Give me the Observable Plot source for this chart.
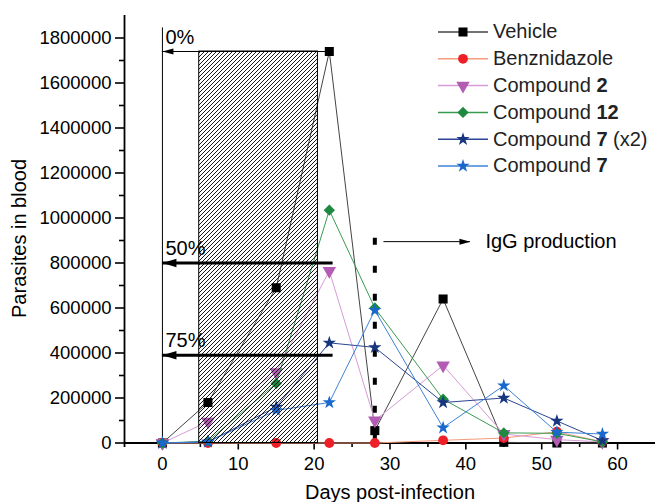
<!DOCTYPE html>
<html><head><meta charset="utf-8">
<script src="https://cdn.jsdelivr.net/npm/d3@7"></script>
<script src="https://cdn.jsdelivr.net/npm/@observablehq/plot@0.6"></script>
<style>
body{margin:0;background:#fff;font-family:"Liberation Sans",Arial,sans-serif;}
#wrap{position:relative;width:655px;height:502px;}
#legend{position:absolute;left:0;top:0;pointer-events:none;}
</style></head><body><div id="wrap"></div>
<script>
// ---- data ----
const days = [0, 6, 15, 22, 28, 37, 45, 52, 58];
const vehicle      = [0, 180000, 690000, 1740000, 55000, 640000, 3000, 0, 0];
const benznidazole = [0, 0, 0, 0, 0, 12000, 22000, 50000, 5000];
const compound2    = [0, 95000, 315000, 765000, 100000, 345000, 40000, 15000, 5000];
const compound12   = [0, 8000, 265000, 1035000, 600000, 195000, 45000, 43000, 5000];
const compound7x2  = [0, 5000, 160000, 445000, 425000, 180000, 200000, 98000, 11000];
const compound7    = [0, 5000, 145000, 180000, 590000, 68000, 255000, 48000, 40000];

const seriesNames = ["Vehicle", "Benznidazole", "Compound 2", "Compound 12", "Compound 7 (x2)", "Compound 7"];
const seriesLabelParts = [["Vehicle", "", ""], ["Benznidazole", "", ""], ["Compound ", "2", ""], ["Compound ", "12", ""], ["Compound ", "7", " (x2)"], ["Compound ", "7", ""]];
const seriesValues = [vehicle, benznidazole, compound2, compound12, compound7x2, compound7];
const markerColors = ["#000000", "#ee1f26", "#b35cb3", "#1d8a3f", "#17367f", "#1a68cc"];
const lineColors   = ["#444444", "#f59a7c", "#d79bd6", "#3b9a52", "#2b4493", "#3e83d9"];

const xTicks = [0, 10, 20, 30, 40, 50, 60];
const xMinorTicks = [5, 15, 25, 35, 45, 55];
const yTicks = [0, 200000, 400000, 600000, 800000, 1000000, 1200000, 1400000, 1600000, 1800000];
const yMinorTicks = [100000, 300000, 500000, 700000, 900000, 1100000, 1300000, 1500000, 1700000];

// annotations
const treatmentWindow = [4.85, 20.5];
const treatmentTop = 1740000;
const reductionLabels = ["0%", "50%", "75%"];
const reductionLevels = [1740000, 800000, 390000];
const reductionStart = [22, 22.5, 22.5];
const infectionLineTop = 1845000;
const iggDay = 28;
const iggTop = 910000;
const iggArrow = [29.2, 40.6];
const iggLevel = 895000;
const iggLabel = "IgG production";

// ---- symbols ----
const symbols = [d3.symbolSquare, d3.symbolCircle, d3.symbolTriangle, d3.symbolDiamond2, d3.symbolStar, d3.symbolStar];
const radii = [5.1, 4.9, 5.0, 5.1, 4.2, 4.2];
const rotations = [0, 0, 180, 0, 0, 0];
const headLeft = (len, half) => ({draw(ctx){ctx.moveTo(0,0);ctx.lineTo(len,-half);ctx.lineTo(len,half);ctx.closePath();}});
const headRight = (len, half) => ({draw(ctx){ctx.moveTo(0,0);ctx.lineTo(-len,-half);ctx.lineTo(-len,half);ctx.closePath();}});

const rows = seriesNames.flatMap((s, i) => days.map((d, j) => ({series: s, day: d, value: seriesValues[i][j]})));

const seriesMarks = seriesNames.flatMap((s, i) => {
  const data = rows.filter(r => r.series === s);
  return [
    Plot.line(data, {x: "day", y: "value", stroke: lineColors[i], strokeWidth: 1}),
    Plot.dot(data, {x: "day", y: "value", symbol: symbols[i], r: radii[i], rotate: rotations[i], fill: markerColors[i], stroke: "none"})
  ];
});

const reductions = reductionLabels.map((l, i) => ({label: l, y: reductionLevels[i], x1: reductionStart[i]}));

const plot = Plot.plot({
  width: 655, height: 502,
  marginLeft: 124, marginRight: 0, marginTop: 15, marginBottom: 55,
  style: {fontFamily: '"Liberation Sans", Arial, sans-serif', fontSize: "18.5px", background: "white", color: "black"},
  x: {domain: [-5, 65], label: null},
  y: {domain: [-20000, 1900000], label: null},
  marks: [
    // axes
    Plot.ruleX([-5], {strokeWidth: 1.8}),
    Plot.ruleY([0], {strokeWidth: 1.8}),
    Plot.axisY({ticks: yTicks, tickSize: 9, tickPadding: 4, strokeWidth: 1.6, tickFormat: d3.format("d"), fontSize: 18.5}),
    Plot.axisY({ticks: yMinorTicks, tickSize: 5, strokeWidth: 1.6, tickFormat: () => ""}),
    Plot.axisX({ticks: xTicks, tickSize: 7, tickPadding: 7, dy: -4.5, strokeWidth: 1.6, tickFormat: d3.format("d"), fontSize: 18.5}),
    Plot.axisX({ticks: xMinorTicks, tickSize: 4.5, dy: -4.5, strokeWidth: 1.6, tickFormat: () => ""}),
    Plot.text(["Days post-infection"], {frameAnchor: "bottom", dy: 45, fontSize: 20, lineAnchor: "middle"}),
    Plot.text(["Parasites in blood"], {frameAnchor: "left", rotate: -90, dx: -105, dy: 7, fontSize: 20, lineAnchor: "middle", textAnchor: "middle"}),
    // infection day line
    Plot.ruleX([0], {y1: 0, y2: infectionLineTop, strokeWidth: 1}),
    // IgG dashed line
    Plot.ruleX([iggDay], {y1: iggTop, y2: 0, strokeWidth: 4, strokeDasharray: "7,21"}),
    // series
    ...seriesMarks,
    // reduction labels
    Plot.text(reductions, {x: 0, y: "y", text: "label", textAnchor: "start", lineAnchor: "bottom", dx: 3, dy: -8, fontSize: 20}),
    // treatment window (hatched)
    Plot.rect([treatmentWindow], {x1: d => d[0], x2: d => d[1], y1: 0, y2: treatmentTop, fill: "url(#hatch)", stroke: "black", strokeWidth: 1}),
    // reduction arrows
    Plot.ruleY(reductions.slice(0, 1), {y: "y", x1: "x1", x2: 0, strokeWidth: 1}),
    Plot.ruleY(reductions.slice(1), {y: "y", x1: "x1", x2: 0, strokeWidth: 3}),
    Plot.dot(reductions.slice(0, 1), {x: 0, y: "y", symbol: headLeft(11, 3), fill: "black", stroke: "none"}),
    Plot.dot(reductions.slice(1), {x: 0, y: "y", symbol: headLeft(14, 4.2), fill: "black", stroke: "none"}),
    // IgG arrow
    Plot.ruleY([iggLevel], {x1: iggArrow[0], x2: iggArrow[1], strokeWidth: 1}),
    Plot.dot([iggLevel], {x: iggArrow[1], y: d => d, symbol: headRight(11, 3), fill: "black", stroke: "none"}),
    Plot.text([iggLabel], {x: iggArrow[1], y: iggLevel, dx: 15, textAnchor: "start", lineAnchor: "middle", fontSize: 20})
  ]
});

// hatch pattern
const svgEl = plot.tagName.toLowerCase() === "svg" ? plot : plot.querySelector("svg");
const ns = "http://www.w3.org/2000/svg";
const defs = document.createElementNS(ns, "defs");
defs.innerHTML = '<pattern id="hatch" patternUnits="userSpaceOnUse" width="4" height="4"><path d="M-1,1 l2,-2 M0,4 l4,-4 M3,5 l2,-2" stroke="#000" stroke-width="0.9"/></pattern>';
svgEl.insertBefore(defs, svgEl.firstChild);

const wrap = document.getElementById("wrap");
wrap.appendChild(plot);

// legend overlay
const legend = d3.create("svg").attr("id", "legend").attr("width", 655).attr("height", 502)
  .style("font-family", '"Liberation Sans", Arial, sans-serif');
seriesNames.forEach((s, i) => {
  const cy = 32 + i * 26.8;
  const g = legend.append("g");
  g.append("line").attr("x1", 438).attr("x2", 488).attr("y1", cy).attr("y2", cy)
    .attr("stroke", lineColors[i]).attr("stroke-width", 1.5);
  g.append("path").attr("d", d3.symbol(symbols[i], Math.PI * radii[i] * radii[i])())
    .attr("transform", `translate(463,${cy}) rotate(${rotations[i]})`).attr("fill", markerColors[i]);
  const t = g.append("text").attr("x", 493).attr("y", cy).attr("dy", "0.32em").attr("font-size", 20).attr("fill", "#222");
  const parts = seriesLabelParts[i];
  t.append("tspan").text(parts[0]);
  if (parts[1]) t.append("tspan").attr("font-weight", "bold").text(parts[1]);
  if (parts[2]) t.append("tspan").text(parts[2]);
});
wrap.appendChild(legend.node());
</script></body></html>
